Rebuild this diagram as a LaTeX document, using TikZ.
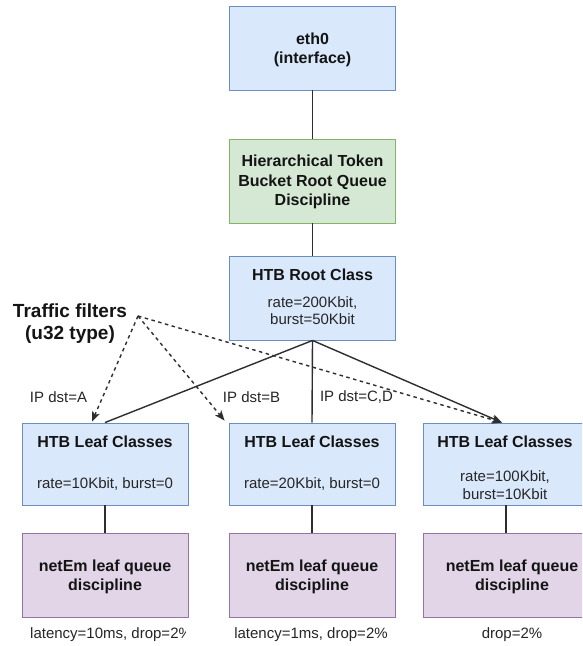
\documentclass[tikz,border=0pt]{standalone}
\usepackage{fontspec}
\setmainfont{Liberation Sans}
\usetikzlibrary{arrows.meta,calc}

\definecolor{blueFill}{HTML}{DAE8FC}
\definecolor{blueLine}{HTML}{6C8EBF}
\definecolor{greenFill}{HTML}{D5E8D4}
\definecolor{greenLine}{HTML}{82B366}
\definecolor{purpleFill}{HTML}{E1D5E7}
\definecolor{purpleLine}{HTML}{9673A6}
\definecolor{wire}{HTML}{2E2E2E}
\definecolor{ink}{HTML}{141414}
\definecolor{softink}{HTML}{262626}

\tikzset{
  box/.style={draw, line width=0.9pt, minimum width=166pt, minimum height=84pt,
    align=center, inner sep=0pt, text=ink},
  bluebox/.style={box, fill=blueFill, draw=blueLine},
  greenbox/.style={box, fill=greenFill, draw=greenLine},
  purplebox/.style={box, fill=purpleFill, draw=purpleLine},
  title/.style={font=\fontsize{16}{19.2}\selectfont\bfseries, text=ink, align=center, inner sep=0pt},
  small/.style={font=\fontsize{15}{17.3}\selectfont, text=softink, align=center, inner sep=0pt},
  link/.style={draw=wire, line width=1.4pt},
  filter/.style={draw=wire, line width=1.4pt, dash pattern=on 3.5pt off 3.5pt},
  tip/.style={-{Stealth[length=10pt,width=8pt,inset=2.5pt]}}
}

\begin{document}
\begin{tikzpicture}[x=1pt,y=-1pt]
\useasboundingbox (0,0) rectangle (582,646);
\clip (0,0) rectangle (582,646);
\fill[white] (0,0) rectangle (582,646);

% interface and root queue discipline
\node[bluebox] (eth) at (312.5,48) {};
\node[title] (ethtxt) at (312.5,50) {eth0\\(interface)};
\node[greenbox] (qdisc) at (312.5,181) {};
\node[title] (qdisctxt) at (312.5,182) {Hierarchical Token\\Bucket Root Queue\\Discipline};

% root class
\node[bluebox] (root) at (312.5,298) {};
\node[title] (roottitle) at (312.5,275) {HTB Root Class};
\node[small] (rootrate) at (312.5,310.5) {rate=200Kbit,\\burst=50Kbit};

% leaf classes
\node[bluebox, minimum height=82pt] (leafA) at (105,464) {};
\node[bluebox, minimum height=82pt] (leafB) at (312,464) {};
\node[bluebox, minimum height=82pt] (leafC) at (506,464) {};
\node[title] (leafAt) at (105,442) {HTB Leaf Classes};
\node[title] (leafBt) at (312,442) {HTB Leaf Classes};
\node[title] (leafCt) at (505,442) {HTB Leaf Classes};
\node[small] (leafAr) at (105,484) {rate=10Kbit, burst=0};
\node[small] (leafBr) at (312,484) {rate=20Kbit, burst=0};
\node[small] (leafCr) at (505,485) {rate=100Kbit,\\burst=10Kbit};

% netem queue disciplines
\node[purplebox] (netA) at (105,575) {};
\node[purplebox] (netB) at (312,575) {};
\node[purplebox] (netC) at (506,575) {};
\node[title] (netAt) at (105,576.5) {netEm leaf queue\\discipline};
\node[title] (netBt) at (312,576.5) {netEm leaf queue\\discipline};
\node[title] (netCt) at (512,576.5) {netEm leaf queue\\discipline};

% netem parameters
\begin{scope}
  \clip (0,620) rectangle (185.5,646);
  \node[small, anchor=west] (latA) at (30,635) {latency=10ms, drop=2\%};
\end{scope}
\node[small] (latB) at (311,635) {latency=1ms, drop=2\%};
\node[small] (latC) at (512,635) {drop=2\%};

% filters label
\node[font=\fontsize{19}{22}\selectfont\bfseries, text=ink, align=center, inner sep=0pt]
  (filters) at (70,324) {Traffic filters\\(u32 type)};
\coordinate (flt) at (138,316);

% destination labels
\node[small] (ipA) at (58.5,397) {IP dst=A};
\node[small] (ipB) at (251.5,397) {IP dst=B};
\node[small] (ipC) at (356.5,397) {IP dst=C,D};

% arrow end points on the leaf classes
\coordinate (tA) at ($(leafA.north)+(-13,-1)$);
\coordinate (tB) at ($(leafB.north west)+(-4,-2)$);
\coordinate (tC) at ($(leafC.north)+(-4,0)$);

% vertical hierarchy
\draw[link] (eth.south) -- (qdisc.north);
\draw[link] (qdisc.south) -- (root.north);
\draw[link] (root.south) -- (leafB.north);
\draw[link] (leafA.south) -- (netA.north);
\draw[link] (leafB.south) -- (netB.north);
\draw[link] (leafC.south) -- (netC.north);

% class fan-out
\draw[link] (root.south) -- (leafA.north);
\draw[link, tip] (root.south) -- (tC);

% filter attachments
\draw[filter, tip] (flt) -- (tA);
\draw[filter, tip] (flt) -- (tB);
\draw[filter, tip] (flt) -- (tC);
\end{tikzpicture}
\end{document}
